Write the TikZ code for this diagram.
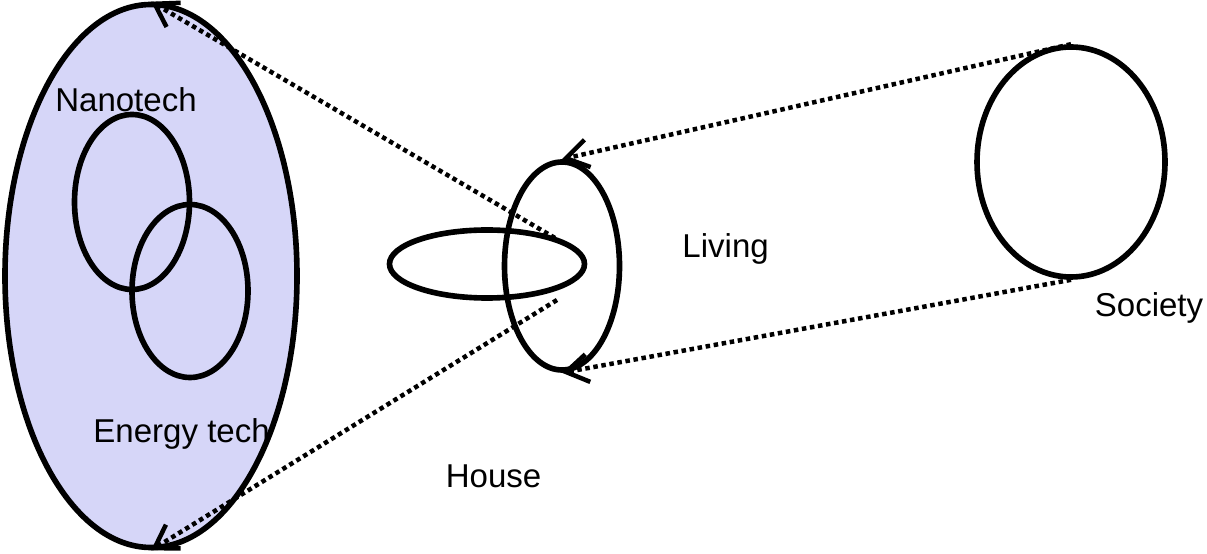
\documentclass[tikz,border=0pt]{standalone}
\usepackage{fontspec}
\setmainfont{Liberation Sans}
\usepackage{xcolor}
\usepackage{tikz}
\usetikzlibrary{arrows.meta,positioning,shapes.geometric}
\definecolor{cFill}{HTML}{D6D6F8}
\definecolor{cLine}{HTML}{000000}
\tikzset{
  ring/.style   = {ellipse, draw=cLine, line width=4pt, inner sep=0pt},
  tech/.style   = {ring, fill=cFill},
  lab/.style    = {font=\fontsize{23.5}{27}\selectfont, inner sep=0pt, anchor=base},
  fl/.style     = {draw=cLine, line width=3.2pt, dash pattern=on 3.2pt off 2.6pt,
                   -{Straight Barb[length=5.5mm, width=7mm, line width=3.2pt]}},
}
\begin{document}
\begin{tikzpicture}
  \useasboundingbox (0,0) rectangle (30.175,13.825);

  \node[tech, minimum width=7.3cm, minimum height=13.575cm] (tech) at (3.775,6.925) {};
  \node[ring, minimum width=2.875cm, minimum height=4.375cm] (nano) at (3.3,8.775) {};
  \node[ring, minimum width=2.9cm, minimum height=4.325cm] (energy) at (4.75,6.55) {};

  \node[ring, minimum width=4.875cm, minimum height=1.7cm] (house) at (12.175,7.225) {};
  \node[ring, minimum width=2.875cm, minimum height=5.2cm] (living) at (14.05,7.175) {};
  \node[ring, minimum width=4.7cm, minimum height=5.75cm] (society) at (26.775,9.775) {};

  \node[lab] (nanolab)    at (3.15,11.025)  {Nanotech};
  \node[lab] (energylab)  at (4.54,2.775)   {Energy tech};
  \node[lab] (livinglab)  at (18.14,7.375)  {Living};
  \node[lab] (societylab) at (28.725,5.9)   {Society};
  \node[lab] (houselab)   at (12.34,1.65)   {House};

  \coordinate (in1) at (13.875,7.875);
  \coordinate (in2) at (13.925,6.325);

  \draw[fl] (society.north) -- (living.north);
  \draw[fl] (society.south) -- (living.south);
  \draw[fl] (in1) -- (tech.north);
  \draw[fl] (in2) -- (tech.south);
\end{tikzpicture}
\end{document}
